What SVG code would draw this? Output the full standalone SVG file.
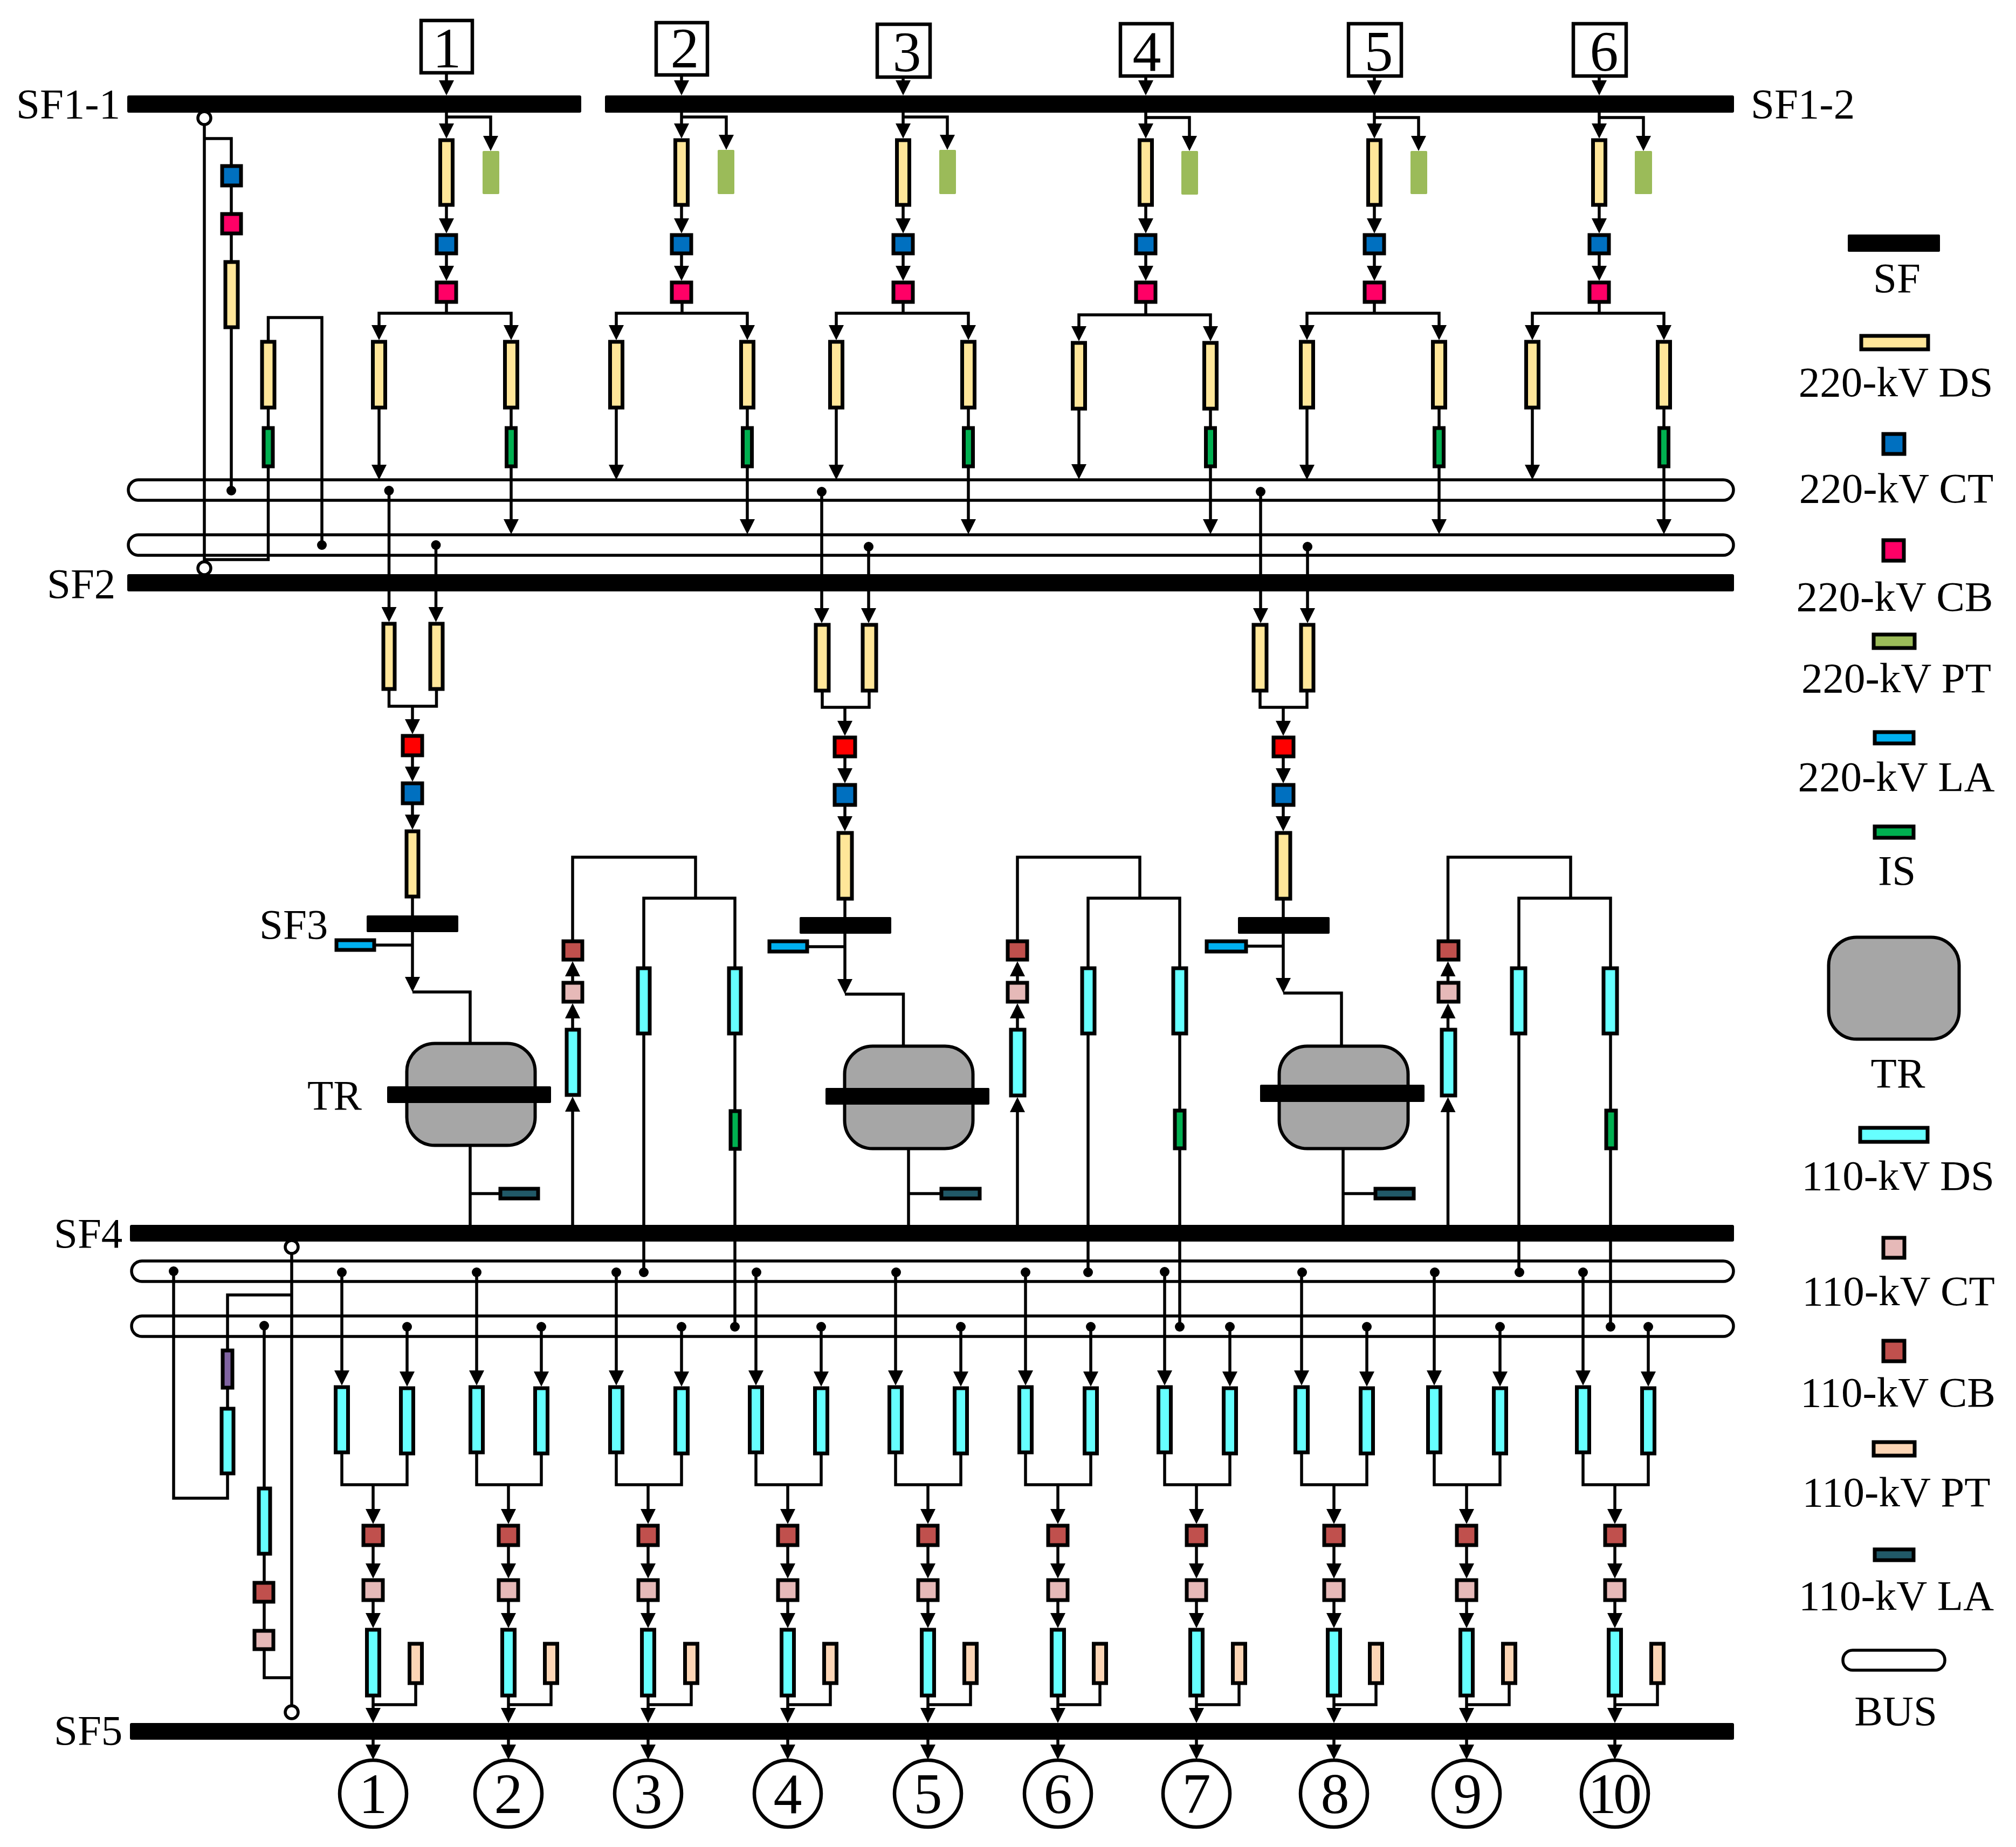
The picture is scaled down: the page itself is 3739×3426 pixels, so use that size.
<svg xmlns="http://www.w3.org/2000/svg" width="3739" height="3426" viewBox="0 0 3739 3426">
<style>
text{font-family:"Liberation Serif","Times New Roman",serif;font-size:79px;fill:#000}
.d{font-size:106px;text-anchor:middle}
.m{text-anchor:middle}
.l{fill:none;stroke:#000;stroke-width:5.5}
.a{fill:none;stroke:#000;stroke-width:5.5;marker-end:url(#arr)}
.o{fill:#fff;stroke:#000;stroke-width:5.5}
.n{stroke:#000;stroke-width:7}
.ds2{fill:#FFE699}.ct2{fill:#0070C0}.cb2{fill:#FF0066}.cbr{fill:#FF0000}.pt2{fill:#9BBB59}.la2{fill:#00B0F0}.is{fill:#00B050}
.ds1{fill:#66FFFF}.ct1{fill:#E6B9B8}.cb1{fill:#C0504D}.pt1{fill:#FCD5B5}.la1{fill:#215968}.vi{fill:#8064A2}
.tr{fill:#A6A6A6;stroke:#000;stroke-width:6}
.box{fill:#fff;stroke:#000;stroke-width:6.5}
.sf{fill:#000}
.bus{fill:none;stroke:#000;stroke-width:5.5}
</style>
<defs>
<marker id="arr" markerUnits="userSpaceOnUse" markerWidth="28" markerHeight="28" refX="18" refY="14" orient="auto"><path d="M0 0L28 14L0 28z" fill="#000"/></marker>
</defs>
<g id="buses">
<g id="BUS1"><rect class="bus" x="238" y="890" width="2977" height="38" rx="19"/></g>
<g id="BUS2"><rect class="bus" x="238" y="992" width="2977" height="38" rx="19"/></g>
<g id="BUS3"><rect class="bus" x="244" y="2339" width="2971" height="38" rx="19"/></g>
<g id="BUS4"><rect class="bus" x="244" y="2441" width="2971" height="38" rx="19"/></g>
</g>
<g id="connectors">
<path class="a" d="M828 138V167"/><path class="a" d="M828 209V247"/><path class="a" d="M828 217H910V270"/><path class="a" d="M828 383V423"/><path class="a" d="M828 473V511"/><path class="l" d="M828 563V581"/><path class="a" d="M828 581H703V621"/><path class="a" d="M828 581H948V621"/><path class="a" d="M703 759V880"/><path class="l" d="M948 759V791"/><path class="a" d="M948 868V981"/>
<path class="a" d="M1264 142V167"/><path class="a" d="M1264 209V247"/><path class="a" d="M1264 217H1347V268"/><path class="a" d="M1264 383V423"/><path class="a" d="M1264 473V511"/><path class="l" d="M1265 563V581"/><path class="a" d="M1265 581H1143V621"/><path class="a" d="M1265 581H1386V621"/><path class="a" d="M1143 759V880"/><path class="l" d="M1386 759V791"/><path class="a" d="M1386 868V981"/>
<path class="a" d="M1675 146V167"/><path class="a" d="M1675 209V247"/><path class="a" d="M1675 217H1757V268"/><path class="a" d="M1675 383V423"/><path class="a" d="M1675 473V511"/><path class="l" d="M1675 563V581"/><path class="a" d="M1675 581H1551V621"/><path class="a" d="M1675 581H1796V621"/><path class="a" d="M1551 759V880"/><path class="l" d="M1796 759V791"/><path class="a" d="M1796 868V981"/>
<path class="a" d="M2125 144V167"/><path class="a" d="M2125 209V247"/><path class="a" d="M2125 218H2206V270"/><path class="a" d="M2125 383V423"/><path class="a" d="M2125 473V511"/><path class="l" d="M2125 563V584"/><path class="a" d="M2125 584H2001V623"/><path class="a" d="M2125 584H2245V623"/><path class="a" d="M2001 761V879"/><path class="l" d="M2245 761V791"/><path class="a" d="M2245 868V981"/>
<path class="a" d="M2549 144V167"/><path class="a" d="M2549 209V247"/><path class="a" d="M2549 218H2631V270"/><path class="a" d="M2549 383V423"/><path class="a" d="M2549 473V511"/><path class="l" d="M2549 563V581"/><path class="a" d="M2549 581H2424V621"/><path class="a" d="M2549 581H2669V621"/><path class="a" d="M2424 759V880"/><path class="l" d="M2669 759V791"/><path class="a" d="M2669 868V981"/>
<path class="a" d="M2966 144V167"/><path class="a" d="M2966 209V247"/><path class="a" d="M2966 218H3048V270"/><path class="a" d="M2966 383V423"/><path class="a" d="M2966 473V511"/><path class="l" d="M2966 563V581"/><path class="a" d="M2966 581H2842V621"/><path class="a" d="M2966 581H3086V621"/><path class="a" d="M2842 759V880"/><path class="l" d="M3086 759V791"/><path class="a" d="M3086 868V981"/>
<path class="l" d="M379 232V1041"/><path class="l" d="M379 257H429V305"/><path class="l" d="M429 347V394"/><path class="l" d="M429 436V483"/><path class="l" d="M429 610V910"/><circle cx="429" cy="910" r="9"/>
<path class="l" d="M497.5 631V589H597V1011"/><circle cx="597" cy="1011" r="9"/><path class="l" d="M497.5 759V791"/><path class="l" d="M497.5 868V1038H379"/>
<path class="a" d="M721.5 910V1144"/><circle cx="721.5" cy="910" r="9"/><path class="a" d="M808.5 1011V1144"/><circle cx="808.5" cy="1011" r="9"/><path class="l" d="M721.5 1281V1310H809.5V1281"/><path class="a" d="M765 1310V1352"/><path class="a" d="M765 1404V1440"/><path class="a" d="M765 1493V1529"/><path class="a" d="M765 1666V1830"/><path class="l" d="M697 1753H765"/><path class="l" d="M765 1840H872V1933"/><path class="l" d="M872 2127V2272"/><path class="l" d="M872 2214H925"/>
<path class="a" d="M1062 2272V2044"/><path class="a" d="M1062 1907V1871"/><path class="a" d="M1062 1820V1793"/><path class="l" d="M1062 1743V1590H1290V1666"/><path class="l" d="M1194 1793V1666H1363V1793"/><path class="l" d="M1194 1920V2360"/><circle cx="1194" cy="2360" r="9"/><path class="l" d="M1363 1920V2058"/><path class="l" d="M1363 2134V2461"/><circle cx="1363" cy="2461" r="9"/>
<path class="a" d="M1524 912V1146"/><circle cx="1524" cy="912" r="9"/><path class="a" d="M1611 1014V1146"/><circle cx="1611" cy="1014" r="9"/><path class="l" d="M1525 1284V1312H1612V1284"/><path class="a" d="M1567 1312V1355"/><path class="a" d="M1567 1406V1443"/><path class="a" d="M1567 1496V1532"/><path class="a" d="M1567 1670V1834"/><path class="l" d="M1500 1756H1567"/><path class="l" d="M1567 1844H1675.5V1938"/><path class="l" d="M1685 2133V2272"/><path class="l" d="M1685 2214H1743"/>
<path class="a" d="M1887 2272V2045"/><path class="a" d="M1887 1907V1871"/><path class="a" d="M1887 1820V1793"/><path class="l" d="M1887 1743V1590H2114V1666"/><path class="l" d="M2018 1793V1666H2188V1793"/><path class="l" d="M2018 1920V2360"/><circle cx="2018" cy="2360" r="9"/><path class="l" d="M2188 1920V2057"/><path class="l" d="M2188 2133V2461"/><circle cx="2188" cy="2461" r="9"/>
<path class="a" d="M2338 912V1146"/><circle cx="2338" cy="912" r="9"/><path class="a" d="M2425 1014V1146"/><circle cx="2425" cy="1014" r="9"/><path class="l" d="M2337 1284V1312H2424V1284"/><path class="a" d="M2380 1312V1355"/><path class="a" d="M2380 1406V1443"/><path class="a" d="M2380 1496V1532"/><path class="a" d="M2380 1670V1832"/><path class="l" d="M2314 1755H2380"/><path class="l" d="M2380 1842H2488V1938"/><path class="l" d="M2491 2133V2272"/><path class="l" d="M2491 2214H2548"/>
<path class="a" d="M2685.5 2272V2045"/><path class="a" d="M2685.5 1907V1871"/><path class="a" d="M2685.5 1820V1793"/><path class="l" d="M2685.5 1743V1590H2913V1666"/><path class="l" d="M2817 1793V1666H2987V1793"/><path class="l" d="M2817 1920V2360"/><circle cx="2818" cy="2360" r="9"/><path class="l" d="M2987 1920V2057"/><path class="l" d="M2987 2133V2461"/><circle cx="2987" cy="2461" r="9"/>
<path class="l" d="M541 2326V3163"/><path class="l" d="M322 2358V2779H422V2736"/><circle cx="322" cy="2358" r="9"/><path class="l" d="M422 2610V2577"/><path class="l" d="M422 2502V2402H541"/><path class="l" d="M490 2459V2758"/><circle cx="490" cy="2459" r="9"/><path class="l" d="M490 2885V2933"/><path class="l" d="M490 2974V3022"/><path class="l" d="M490 3062V3112H541"/>
<path class="a" d="M634 2360V2560"/><circle cx="634" cy="2360" r="9"/><path class="a" d="M755 2461V2562"/><circle cx="755" cy="2461" r="9"/><path class="l" d="M634 2697V2754H755V2699"/><path class="a" d="M692 2754V2817"/><path class="a" d="M692 2869V2918"/><path class="a" d="M692 2971V3010"/><path class="a" d="M692 3148V3186"/><path class="l" d="M692 3162H771V3125"/><path class="a" d="M692 3227V3254"/>
<path class="a" d="M884 2360V2560"/><circle cx="884" cy="2360" r="9"/><path class="a" d="M1004 2461V2562"/><circle cx="1004" cy="2461" r="9"/><path class="l" d="M884 2697V2754H1004V2699"/><path class="a" d="M943 2754V2817"/><path class="a" d="M943 2869V2918"/><path class="a" d="M943 2971V3010"/><path class="a" d="M943 3148V3186"/><path class="l" d="M943 3162H1022V3125"/><path class="a" d="M943 3227V3254"/>
<path class="a" d="M1143 2360V2560"/><circle cx="1143" cy="2360" r="9"/><path class="a" d="M1264 2461V2562"/><circle cx="1264" cy="2461" r="9"/><path class="l" d="M1143 2697V2754H1264V2699"/><path class="a" d="M1202 2754V2817"/><path class="a" d="M1202 2869V2918"/><path class="a" d="M1202 2971V3010"/><path class="a" d="M1202 3148V3186"/><path class="l" d="M1202 3162H1282V3125"/><path class="a" d="M1202 3227V3254"/>
<path class="a" d="M1402 2360V2560"/><circle cx="1403" cy="2360" r="9"/><path class="a" d="M1523 2461V2562"/><circle cx="1523" cy="2461" r="9"/><path class="l" d="M1402 2697V2754H1523V2699"/><path class="a" d="M1461 2754V2817"/><path class="a" d="M1461 2869V2918"/><path class="a" d="M1461 2971V3010"/><path class="a" d="M1461 3148V3186"/><path class="l" d="M1461 3162H1540V3125"/><path class="a" d="M1461 3227V3254"/>
<path class="a" d="M1661 2360V2560"/><circle cx="1662" cy="2360" r="9"/><path class="a" d="M1782 2461V2562"/><circle cx="1782" cy="2461" r="9"/><path class="l" d="M1661 2697V2754H1782V2699"/><path class="a" d="M1721 2754V2817"/><path class="a" d="M1721 2869V2918"/><path class="a" d="M1721 2971V3010"/><path class="a" d="M1721 3148V3186"/><path class="l" d="M1721 3162H1800V3125"/><path class="a" d="M1721 3227V3254"/>
<path class="a" d="M1902 2360V2560"/><circle cx="1902" cy="2360" r="9"/><path class="a" d="M2023 2461V2562"/><circle cx="2023" cy="2461" r="9"/><path class="l" d="M1902 2697V2754H2023V2699"/><path class="a" d="M1962 2754V2817"/><path class="a" d="M1962 2869V2918"/><path class="a" d="M1962 2971V3010"/><path class="a" d="M1962 3148V3186"/><path class="l" d="M1962 3162H2040V3125"/><path class="a" d="M1962 3227V3254"/>
<path class="a" d="M2160 2360V2560"/><circle cx="2160" cy="2359" r="9"/><path class="a" d="M2281 2461V2562"/><circle cx="2281" cy="2461" r="9"/><path class="l" d="M2160 2697V2754H2281V2699"/><path class="a" d="M2219 2754V2817"/><path class="a" d="M2219 2869V2918"/><path class="a" d="M2219 2971V3010"/><path class="a" d="M2219 3148V3186"/><path class="l" d="M2219 3162H2298V3125"/><path class="a" d="M2219 3227V3254"/>
<path class="a" d="M2414 2360V2560"/><circle cx="2415" cy="2360" r="9"/><path class="a" d="M2535 2461V2562"/><circle cx="2535" cy="2461" r="9"/><path class="l" d="M2414 2697V2754H2535V2699"/><path class="a" d="M2474 2754V2817"/><path class="a" d="M2474 2869V2918"/><path class="a" d="M2474 2971V3010"/><path class="a" d="M2474 3148V3186"/><path class="l" d="M2474 3162H2552V3125"/><path class="a" d="M2474 3227V3254"/>
<path class="a" d="M2660 2360V2560"/><circle cx="2661" cy="2360" r="9"/><path class="a" d="M2782 2461V2562"/><circle cx="2782" cy="2461" r="9"/><path class="l" d="M2660 2697V2754H2782V2699"/><path class="a" d="M2720 2754V2817"/><path class="a" d="M2720 2869V2918"/><path class="a" d="M2720 2971V3010"/><path class="a" d="M2720 3148V3186"/><path class="l" d="M2720 3162H2799V3125"/><path class="a" d="M2720 3227V3254"/>
<path class="a" d="M2936 2360V2560"/><circle cx="2936" cy="2360" r="9"/><path class="a" d="M3057 2461V2562"/><circle cx="3057" cy="2461" r="9"/><path class="l" d="M2936 2697V2754H3057V2699"/><path class="a" d="M2995 2754V2817"/><path class="a" d="M2995 2869V2918"/><path class="a" d="M2995 2971V3010"/><path class="a" d="M2995 3148V3186"/><path class="l" d="M2995 3162H3074V3125"/><path class="a" d="M2995 3227V3254"/>
</g>
<g id="switchframes">
<g id="SF1-1"><rect class="sf" x="236" y="177" width="842" height="32" rx="3"/></g>
<g id="SF1-2"><rect class="sf" x="1122" y="177" width="2094" height="32" rx="3"/></g>
<g id="SF2"><rect class="sf" x="236" y="1065" width="2980" height="32" rx="3"/></g>
<g id="SF4"><rect class="sf" x="241" y="2272" width="2975" height="31" rx="3"/></g>
<g id="SF5"><rect class="sf" x="241" y="3196" width="2975" height="31" rx="3"/></g>
</g>
<g id="tie-nodes">
<g id="tc1"><circle class="o" cx="379" cy="219" r="12"/></g>
<g id="tc2"><circle class="o" cx="379" cy="1054" r="12"/></g>
<g id="tc3"><circle class="o" cx="541" cy="2313" r="12"/></g>
<g id="tc4"><circle class="o" cx="541" cy="3176" r="12"/></g>
<g id="lc1"><rect class="n ct2" x="412" y="308" width="35" height="36"/></g>
<g id="lc2"><rect class="n cb2" x="412" y="397" width="35" height="36"/></g>
<g id="lc3"><rect class="n ds2" x="418" y="486" width="23" height="121"/></g>
<g id="lc4"><rect class="n ds2" x="486" y="634" width="23" height="122"/></g>
<g id="lc5"><rect class="n is" x="489" y="794" width="17" height="71"/></g>
<g id="lb1"><rect class="n vi" x="413" y="2505" width="18" height="69"/></g>
<g id="lb2"><rect class="n ds1" x="411" y="2613" width="22" height="120"/></g>
<g id="lb3"><rect class="n ds1" x="480" y="2761" width="21" height="121"/></g>
<g id="lb4"><rect class="n cb1" x="472" y="2936" width="35" height="35"/></g>
<g id="lb5"><rect class="n ct1" x="472" y="3025" width="35" height="34"/></g>
</g>
<g id="incoming-bays">
<g id="in1box"><rect class="box" x="781" y="38" width="95" height="97"/><text class="d" x="829" y="125">1</text></g>
<g id="in1pt"><rect class="pt2" x="895" y="280" width="31" height="80" rx="2"/></g>
<g id="in1ds"><rect class="n ds2" x="816.5" y="260" width="23" height="120"/></g>
<g id="in1ct"><rect class="n ct2" x="810" y="436" width="36" height="34"/></g>
<g id="in1cb"><rect class="n cb2" x="810" y="524" width="36" height="36"/></g>
<g id="in1dl"><rect class="n ds2" x="691.5" y="634" width="23" height="122"/></g>
<g id="in1dr"><rect class="n ds2" x="936.5" y="634" width="23" height="122"/></g>
<g id="in1is"><rect class="n is" x="939.5" y="794" width="17" height="71"/></g>
<g id="in2box"><rect class="box" x="1217" y="42" width="95" height="97"/><text class="d" x="1270" y="125">2</text></g>
<g id="in2pt"><rect class="pt2" x="1331" y="278" width="31" height="82" rx="2"/></g>
<g id="in2ds"><rect class="n ds2" x="1252.5" y="260" width="23" height="120"/></g>
<g id="in2ct"><rect class="n ct2" x="1246" y="436" width="36" height="34"/></g>
<g id="in2cb"><rect class="n cb2" x="1246" y="524" width="36" height="36"/></g>
<g id="in2dl"><rect class="n ds2" x="1131.5" y="634" width="23" height="122"/></g>
<g id="in2dr"><rect class="n ds2" x="1374.5" y="634" width="23" height="122"/></g>
<g id="in2is"><rect class="n is" x="1377.5" y="794" width="17" height="71"/></g>
<g id="in3box"><rect class="box" x="1627" y="45" width="98" height="98"/><text class="d" x="1682" y="132">3</text></g>
<g id="in3pt"><rect class="pt2" x="1742" y="278" width="31" height="82" rx="2"/></g>
<g id="in3ds"><rect class="n ds2" x="1663.5" y="260" width="23" height="120"/></g>
<g id="in3ct"><rect class="n ct2" x="1657" y="436" width="36" height="34"/></g>
<g id="in3cb"><rect class="n cb2" x="1657" y="524" width="36" height="36"/></g>
<g id="in3dl"><rect class="n ds2" x="1539.5" y="634" width="23" height="122"/></g>
<g id="in3dr"><rect class="n ds2" x="1784.5" y="634" width="23" height="122"/></g>
<g id="in3is"><rect class="n is" x="1787.5" y="794" width="17" height="71"/></g>
<g id="in4box"><rect class="box" x="2078" y="44" width="96" height="97"/><text class="d" x="2127" y="131">4</text></g>
<g id="in4pt"><rect class="pt2" x="2191" y="280" width="31" height="81" rx="2"/></g>
<g id="in4ds"><rect class="n ds2" x="2113.5" y="260" width="23" height="120"/></g>
<g id="in4ct"><rect class="n ct2" x="2107" y="436" width="36" height="34"/></g>
<g id="in4cb"><rect class="n cb2" x="2107" y="524" width="36" height="36"/></g>
<g id="in4dl"><rect class="n ds2" x="1989.5" y="636" width="23" height="122"/></g>
<g id="in4dr"><rect class="n ds2" x="2233.5" y="636" width="23" height="122"/></g>
<g id="in4is"><rect class="n is" x="2236.5" y="794" width="17" height="71"/></g>
<g id="in5box"><rect class="box" x="2501" y="44" width="98" height="97"/><text class="d" x="2557" y="131">5</text></g>
<g id="in5pt"><rect class="pt2" x="2616" y="280" width="31" height="80" rx="2"/></g>
<g id="in5ds"><rect class="n ds2" x="2537.5" y="260" width="23" height="120"/></g>
<g id="in5ct"><rect class="n ct2" x="2531" y="436" width="36" height="34"/></g>
<g id="in5cb"><rect class="n cb2" x="2531" y="524" width="36" height="36"/></g>
<g id="in5dl"><rect class="n ds2" x="2412.5" y="634" width="23" height="122"/></g>
<g id="in5dr"><rect class="n ds2" x="2657.5" y="634" width="23" height="122"/></g>
<g id="in5is"><rect class="n is" x="2660.5" y="794" width="17" height="71"/></g>
<g id="in6box"><rect class="box" x="2918" y="44" width="98" height="97"/><text class="d" x="2975" y="131">6</text></g>
<g id="in6pt"><rect class="pt2" x="3032" y="280" width="32" height="80" rx="2"/></g>
<g id="in6ds"><rect class="n ds2" x="2954.5" y="260" width="23" height="120"/></g>
<g id="in6ct"><rect class="n ct2" x="2948" y="436" width="36" height="34"/></g>
<g id="in6cb"><rect class="n cb2" x="2948" y="524" width="36" height="36"/></g>
<g id="in6dl"><rect class="n ds2" x="2830.5" y="634" width="23" height="122"/></g>
<g id="in6dr"><rect class="n ds2" x="3074.5" y="634" width="23" height="122"/></g>
<g id="in6is"><rect class="n is" x="3077.5" y="794" width="17" height="71"/></g>
</g>
<g id="transformer-bays">
<g id="t1dl"><rect class="n ds2" x="711" y="1157" width="21" height="121"/></g>
<g id="t1dr"><rect class="n ds2" x="798" y="1157" width="23" height="121"/></g>
<g id="t1cb"><rect class="n cbr" x="747" y="1365" width="36" height="36"/></g>
<g id="t1ct"><rect class="n ct2" x="747" y="1453" width="36" height="37"/></g>
<g id="t1ds"><rect class="n ds2" x="754" y="1542" width="22" height="121"/></g>
<g id="t1sf"><rect class="sf" x="680" y="1698" width="170" height="31" rx="2"/></g>
<g id="t1la"><rect class="n la2" x="624" y="1744" width="70" height="18"/></g>
<g id="t1tr"><rect class="tr" x="754.5" y="1935.5" width="238" height="189" rx="52"/><rect class="sf" x="718" y="2015" width="304" height="31" rx="2"/></g>
<g id="t1lb"><rect class="n la1" x="928" y="2205" width="70" height="18"/></g>
<g id="t1uds"><rect class="n ds1" x="1051" y="1910" width="23" height="121"/></g>
<g id="t1uct"><rect class="n ct1" x="1045" y="1823" width="35" height="35"/></g>
<g id="t1ucb"><rect class="n cb1" x="1045" y="1746" width="35" height="34"/></g>
<g id="t1dsa"><rect class="n ds1" x="1183" y="1796" width="22" height="121"/></g>
<g id="t1dsb"><rect class="n ds1" x="1352" y="1796" width="22" height="121"/></g>
<g id="t1is"><rect class="n is" x="1355" y="2061" width="17" height="70"/></g>
<g id="t2dl"><rect class="n ds2" x="1513" y="1159" width="24" height="122"/></g>
<g id="t2dr"><rect class="n ds2" x="1600" y="1159" width="25" height="122"/></g>
<g id="t2cb"><rect class="n cbr" x="1548" y="1368" width="38" height="35"/></g>
<g id="t2ct"><rect class="n ct2" x="1548" y="1456" width="38" height="37"/></g>
<g id="t2ds"><rect class="n ds2" x="1555" y="1545" width="25" height="122"/></g>
<g id="t2sf"><rect class="sf" x="1483" y="1701" width="170" height="31" rx="2"/></g>
<g id="t2la"><rect class="n la2" x="1427" y="1746" width="70" height="19"/></g>
<g id="t2tr"><rect class="tr" x="1566.5" y="1940.5" width="238" height="190" rx="52"/><rect class="sf" x="1531" y="2018" width="304" height="31" rx="2"/></g>
<g id="t2lb"><rect class="n la1" x="1746" y="2205" width="71" height="18"/></g>
<g id="t2uds"><rect class="n ds1" x="1875" y="1910" width="25" height="122"/></g>
<g id="t2uct"><rect class="n ct1" x="1869" y="1823" width="36" height="35"/></g>
<g id="t2ucb"><rect class="n cb1" x="1869" y="1746" width="36" height="34"/></g>
<g id="t2dsa"><rect class="n ds1" x="2007" y="1796" width="23" height="121"/></g>
<g id="t2dsb"><rect class="n ds1" x="2176" y="1796" width="24" height="121"/></g>
<g id="t2is"><rect class="n is" x="2179" y="2060" width="18" height="70"/></g>
<g id="t3dl"><rect class="n ds2" x="2325" y="1159" width="24" height="122"/></g>
<g id="t3dr"><rect class="n ds2" x="2413" y="1159" width="23" height="122"/></g>
<g id="t3cb"><rect class="n cbr" x="2362" y="1368" width="37" height="35"/></g>
<g id="t3ct"><rect class="n ct2" x="2362" y="1456" width="37" height="37"/></g>
<g id="t3ds"><rect class="n ds2" x="2368" y="1545" width="25" height="122"/></g>
<g id="t3sf"><rect class="sf" x="2296" y="1701" width="170" height="31" rx="2"/></g>
<g id="t3la"><rect class="n la2" x="2238" y="1746" width="73" height="19"/></g>
<g id="t3tr"><rect class="tr" x="2372.5" y="1940.5" width="239" height="190" rx="52"/><rect class="sf" x="2337" y="2012" width="305" height="32" rx="2"/></g>
<g id="t3lb"><rect class="n la1" x="2551" y="2205" width="71" height="18"/></g>
<g id="t3uds"><rect class="n ds1" x="2674" y="1910" width="25" height="122"/></g>
<g id="t3uct"><rect class="n ct1" x="2668" y="1823" width="37" height="35"/></g>
<g id="t3ucb"><rect class="n cb1" x="2668" y="1746" width="37" height="34"/></g>
<g id="t3dsa"><rect class="n ds1" x="2804" y="1796" width="25" height="121"/></g>
<g id="t3dsb"><rect class="n ds1" x="2974" y="1796" width="25" height="121"/></g>
<g id="t3is"><rect class="n is" x="2979" y="2060" width="18" height="70"/></g>
</g>
<g id="outgoing-bays">
<g id="o1dl"><rect class="n ds1" x="622.5" y="2573" width="23" height="121"/></g><g id="o1dr"><rect class="n ds1" x="743.5" y="2575" width="23" height="121"/></g><g id="o1cb"><rect class="n cb1" x="674" y="2830" width="36" height="36"/></g><g id="o1ct"><rect class="n ct1" x="674" y="2931" width="36" height="37"/></g><g id="o1ds"><rect class="n ds1" x="680.5" y="3023" width="23" height="122"/></g><g id="o1pt"><rect class="n pt1" x="759.5" y="3049" width="23" height="73"/></g><g id="o1c"><circle class="box" cx="692" cy="3327" r="62"/><text class="d" x="692" y="3363">1</text></g>
<g id="o2dl"><rect class="n ds1" x="872.5" y="2573" width="23" height="121"/></g><g id="o2dr"><rect class="n ds1" x="992.5" y="2575" width="23" height="121"/></g><g id="o2cb"><rect class="n cb1" x="925" y="2830" width="36" height="36"/></g><g id="o2ct"><rect class="n ct1" x="925" y="2931" width="36" height="37"/></g><g id="o2ds"><rect class="n ds1" x="931.5" y="3023" width="23" height="122"/></g><g id="o2pt"><rect class="n pt1" x="1010.5" y="3049" width="23" height="73"/></g><g id="o2c"><circle class="box" cx="943" cy="3327" r="62"/><text class="d" x="943" y="3363">2</text></g>
<g id="o3dl"><rect class="n ds1" x="1131.5" y="2573" width="23" height="121"/></g><g id="o3dr"><rect class="n ds1" x="1252.5" y="2575" width="23" height="121"/></g><g id="o3cb"><rect class="n cb1" x="1184" y="2830" width="36" height="36"/></g><g id="o3ct"><rect class="n ct1" x="1184" y="2931" width="36" height="37"/></g><g id="o3ds"><rect class="n ds1" x="1190.5" y="3023" width="23" height="122"/></g><g id="o3pt"><rect class="n pt1" x="1270.5" y="3049" width="23" height="73"/></g><g id="o3c"><circle class="box" cx="1202" cy="3327" r="62"/><text class="d" x="1202" y="3363">3</text></g>
<g id="o4dl"><rect class="n ds1" x="1390.5" y="2573" width="23" height="121"/></g><g id="o4dr"><rect class="n ds1" x="1511.5" y="2575" width="23" height="121"/></g><g id="o4cb"><rect class="n cb1" x="1443" y="2830" width="36" height="36"/></g><g id="o4ct"><rect class="n ct1" x="1443" y="2931" width="36" height="37"/></g><g id="o4ds"><rect class="n ds1" x="1449.5" y="3023" width="23" height="122"/></g><g id="o4pt"><rect class="n pt1" x="1528.5" y="3049" width="23" height="73"/></g><g id="o4c"><circle class="box" cx="1461" cy="3327" r="62"/><text class="d" x="1461" y="3363">4</text></g>
<g id="o5dl"><rect class="n ds1" x="1649.5" y="2573" width="23" height="121"/></g><g id="o5dr"><rect class="n ds1" x="1770.5" y="2575" width="23" height="121"/></g><g id="o5cb"><rect class="n cb1" x="1703" y="2830" width="36" height="36"/></g><g id="o5ct"><rect class="n ct1" x="1703" y="2931" width="36" height="37"/></g><g id="o5ds"><rect class="n ds1" x="1709.5" y="3023" width="23" height="122"/></g><g id="o5pt"><rect class="n pt1" x="1788.5" y="3049" width="23" height="73"/></g><g id="o5c"><circle class="box" cx="1721" cy="3327" r="62"/><text class="d" x="1721" y="3363">5</text></g>
<g id="o6dl"><rect class="n ds1" x="1890.5" y="2573" width="23" height="121"/></g><g id="o6dr"><rect class="n ds1" x="2011.5" y="2575" width="23" height="121"/></g><g id="o6cb"><rect class="n cb1" x="1944" y="2830" width="36" height="36"/></g><g id="o6ct"><rect class="n ct1" x="1944" y="2931" width="36" height="37"/></g><g id="o6ds"><rect class="n ds1" x="1950.5" y="3023" width="23" height="122"/></g><g id="o6pt"><rect class="n pt1" x="2028.5" y="3049" width="23" height="73"/></g><g id="o6c"><circle class="box" cx="1962" cy="3327" r="62"/><text class="d" x="1962" y="3363">6</text></g>
<g id="o7dl"><rect class="n ds1" x="2148.5" y="2573" width="23" height="121"/></g><g id="o7dr"><rect class="n ds1" x="2269.5" y="2575" width="23" height="121"/></g><g id="o7cb"><rect class="n cb1" x="2201" y="2830" width="36" height="36"/></g><g id="o7ct"><rect class="n ct1" x="2201" y="2931" width="36" height="37"/></g><g id="o7ds"><rect class="n ds1" x="2207.5" y="3023" width="23" height="122"/></g><g id="o7pt"><rect class="n pt1" x="2286.5" y="3049" width="23" height="73"/></g><g id="o7c"><circle class="box" cx="2219" cy="3327" r="62"/><text class="d" x="2219" y="3363">7</text></g>
<g id="o8dl"><rect class="n ds1" x="2402.5" y="2573" width="23" height="121"/></g><g id="o8dr"><rect class="n ds1" x="2523.5" y="2575" width="23" height="121"/></g><g id="o8cb"><rect class="n cb1" x="2456" y="2830" width="36" height="36"/></g><g id="o8ct"><rect class="n ct1" x="2456" y="2931" width="36" height="37"/></g><g id="o8ds"><rect class="n ds1" x="2462.5" y="3023" width="23" height="122"/></g><g id="o8pt"><rect class="n pt1" x="2540.5" y="3049" width="23" height="73"/></g><g id="o8c"><circle class="box" cx="2474" cy="3327" r="62"/><text class="d" x="2476" y="3363">8</text></g>
<g id="o9dl"><rect class="n ds1" x="2648.5" y="2573" width="23" height="121"/></g><g id="o9dr"><rect class="n ds1" x="2770.5" y="2575" width="23" height="121"/></g><g id="o9cb"><rect class="n cb1" x="2702" y="2830" width="36" height="36"/></g><g id="o9ct"><rect class="n ct1" x="2702" y="2931" width="36" height="37"/></g><g id="o9ds"><rect class="n ds1" x="2708.5" y="3023" width="23" height="122"/></g><g id="o9pt"><rect class="n pt1" x="2787.5" y="3049" width="23" height="73"/></g><g id="o9c"><circle class="box" cx="2720" cy="3327" r="62"/><text class="d" x="2722" y="3363">9</text></g>
<g id="o10dl"><rect class="n ds1" x="2924.5" y="2573" width="23" height="121"/></g><g id="o10dr"><rect class="n ds1" x="3045.5" y="2575" width="23" height="121"/></g><g id="o10cb"><rect class="n cb1" x="2977" y="2830" width="36" height="36"/></g><g id="o10ct"><rect class="n ct1" x="2977" y="2931" width="36" height="37"/></g><g id="o10ds"><rect class="n ds1" x="2983.5" y="3023" width="23" height="122"/></g><g id="o10pt"><rect class="n pt1" x="3062.5" y="3049" width="23" height="73"/></g><g id="o10c"><circle class="box" cx="2995" cy="3327" r="62"/><text class="d" x="2992" y="3363" letter-spacing="-6">10</text></g>
</g>
<g id="labels">
<text x="30" y="219">SF1-1</text>
<text x="3247" y="219">SF1-2</text>
<text x="87" y="1109">SF2</text>
<text x="481" y="1741">SF3</text>
<text x="570" y="2058">TR</text>
<text x="100" y="2314">SF4</text>
<text x="100" y="3236">SF5</text>
</g>
<g id="legend">
<g id="lgSF"><rect class="sf" x="3427" y="435" width="171" height="32" rx="2"/><text class="m" x="3518" y="542">SF</text></g>
<g id="lgDS2"><rect class="n ds2" x="3452" y="623" width="124" height="25"/><text class="m" x="3516" y="735">220-kV DS</text></g>
<g id="lgCT2"><rect class="n ct2" x="3493" y="805" width="39" height="37"/><text class="m" x="3517" y="932">220-kV CT</text></g>
<g id="lgCB2"><rect class="n cb2" x="3493" y="1002" width="38" height="38"/><text class="m" x="3514" y="1133">220-kV CB</text></g>
<g id="lgPT2"><rect class="n pt2" x="3475" y="1177" width="76" height="25"/><text class="m" x="3517" y="1284">220-kV PT</text></g>
<g id="lgLA2"><rect class="n la2" x="3477" y="1358" width="72" height="21"/><text class="m" x="3517" y="1467">220-kV LA</text></g>
<g id="lgIS"><rect class="n is" x="3477" y="1533" width="72" height="21"/><text class="m" x="3518" y="1641">IS</text></g>
<g id="lgTR"><rect class="tr" x="3391.5" y="1738.5" width="242" height="189" rx="52"/><text class="m" x="3520" y="2017">TR</text></g>
<g id="lgDS1"><rect class="n ds1" x="3450" y="2092" width="125" height="26"/><text class="m" x="3520" y="2207">110-kV DS</text></g>
<g id="lgCT1"><rect class="n ct1" x="3493" y="2296" width="39" height="37"/><text class="m" x="3521" y="2421">110-kV CT</text></g>
<g id="lgCB1"><rect class="n cb1" x="3493" y="2487" width="39" height="38"/><text class="m" x="3520" y="2609">110-kV CB</text></g>
<g id="lgPT1"><rect class="n pt1" x="3475" y="2675" width="76" height="25"/><text class="m" x="3517" y="2794">110-kV PT</text></g>
<g id="lgLA1"><rect class="n la1" x="3477" y="2874" width="72" height="20"/><text class="m" x="3517" y="2986">110-kV LA</text></g>
<g id="lgBUS"><rect class="o" x="3418" y="3061" width="189" height="37" rx="18"/><text class="m" x="3516" y="3200">BUS</text></g>
</g>
</svg>
